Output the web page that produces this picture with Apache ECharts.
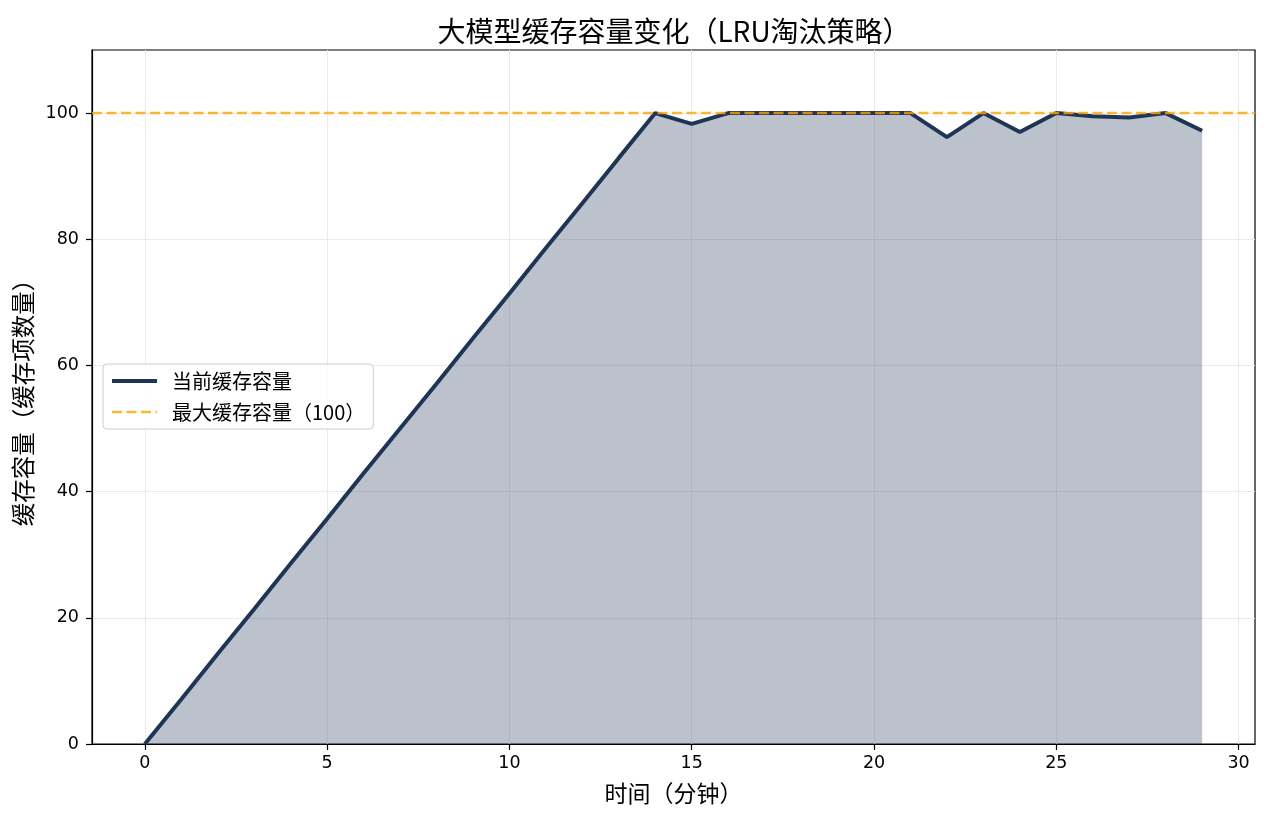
<!DOCTYPE html>
<html>
<head>
<meta charset="utf-8">
<script src="https://cdn.jsdelivr.net/npm/echarts@6/dist/echarts.min.js"></script>
<style>
  html, body { margin: 0; padding: 0; background: #fff; }
  #chart { width: 1269px; height: 823px; }
</style>
</head>
<body>
<div id="chart"></div>
<script>
// Datos
const minutes = [0, 1, 2, 3, 4, 5, 6, 7, 8, 9, 10, 11, 12, 13, 14,
  15, 16, 17, 18, 19, 20, 21, 22, 23, 24, 25, 26, 27, 28, 29];
const cacheSize = [0, 7.1, 14.3, 21.4, 28.6, 35.7, 42.9, 50, 57.1, 64.3, 71.4, 78.6, 85.7, 92.9, 100,
  98.3, 100, 100, 100, 100, 100, 100, 96.2, 100, 97, 100, 99.5, 99.3, 100, 97.2];
const maxCapacity = 100;
const xTicks = [0, 5, 10, 15, 20, 25, 30];
const yTicks = [0, 20, 40, 60, 80, 100];

const fontCJK = '"Noto Sans CJK SC", "DejaVu Sans", sans-serif';
const fontNum = '"DejaVu Sans", sans-serif';
const lineColor = '#1f3557';
const orange = 'rgba(255,165,0,0.8)';

const chart = echarts.init(document.getElementById('chart'));
const option = {
  animation: false,
  textStyle: { fontFamily: fontCJK },
  title: {
    text: '大模型缓存容量变化（LRU淘汰策略）',
    left: 669,
    top: 12,
    textAlign: 'center',
    textStyle: { fontSize: 28, fontWeight: 'normal', color: '#000', fontFamily: fontCJK }
  },
  grid: {
    left: 92,
    right: 14,
    top: 50,
    bottom: 79,
    show: true,
    borderColor: '#000',
    borderWidth: 1.2
  },
  legend: {
    orient: 'vertical',
    left: 103,
    top: 364,
    padding: [7, 8, 7, 7],
    itemWidth: 45,
    itemHeight: 14,
    itemGap: 11,
    backgroundColor: 'rgba(255,255,255,0.85)',
    borderColor: '#cccccc',
    borderWidth: 1,
    borderRadius: 4,
    itemStyle: { opacity: 0 },
    textStyle: { fontSize: 20, color: '#000', fontFamily: fontCJK, padding: [0, 0, 0, 10], width: 206 },
    data: [
      { name: '当前缓存容量', lineStyle: { width: 4, color: lineColor } },
      { name: '最大缓存容量（100）', lineStyle: { width: 2.4, color: orange, type: [10, 4.5] } }
    ]
  },
  xAxis: {
    type: 'value',
    min: -1.45,
    max: 30.45,
    name: '时间（分钟）',
    nameLocation: 'middle',
    nameGap: 38,
    nameTextStyle: { fontSize: 23, color: '#000', fontFamily: fontCJK },
    axisLine: { show: true, onZero: false, lineStyle: { color: '#000', width: 1.2 } },
    axisTick: { show: true, length: 6, inside: false, customValues: xTicks, lineStyle: { color: '#000', width: 1.2 } },
    axisLabel: { customValues: xTicks, fontSize: 17.5, color: '#000', margin: 10, fontFamily: fontNum },
    splitLine: { show: true, lineStyle: { color: '#ebebeb', width: 1 } }
  },
  yAxis: {
    type: 'value',
    min: 0,
    max: 110,
    name: '缓存容量（缓存项数量）',
    nameLocation: 'middle',
    nameGap: 54,
    nameRotate: 90,
    nameTextStyle: { fontSize: 23.5, color: '#000', fontFamily: fontCJK },
    axisLine: { show: true, onZero: false, lineStyle: { color: '#000', width: 1.2 } },
    axisTick: { show: true, length: 6, customValues: yTicks, lineStyle: { color: '#000', width: 1.2 } },
    axisLabel: { customValues: yTicks, fontSize: 17.5, color: '#000', margin: 13, fontFamily: fontNum },
    splitLine: { show: true, lineStyle: { color: '#ebebeb', width: 1 } }
  },
  series: [
    {
      name: '当前缓存容量',
      type: 'line',
      data: minutes.map((m, i) => [m, cacheSize[i]]),
      symbol: 'none',
      z: 3,
      lineStyle: { color: lineColor, width: 4 },
      itemStyle: { color: lineColor },
      areaStyle: { color: lineColor, opacity: 0.3 }
    },
    {
      name: '最大缓存容量（100）',
      type: 'line',
      data: [],
      symbol: 'none',
      z: 5,
      lineStyle: { color: orange, width: 2.4, type: [10, 4.5] },
      itemStyle: { color: orange },
      markLine: {
        silent: true,
        symbol: 'none',
        label: { show: false },
        lineStyle: { color: orange, width: 2.4, type: [10, 4.5] },
        data: [{ yAxis: maxCapacity }]
      }
    }
  ]
};
chart.setOption(option);
</script>
</body>
</html>
